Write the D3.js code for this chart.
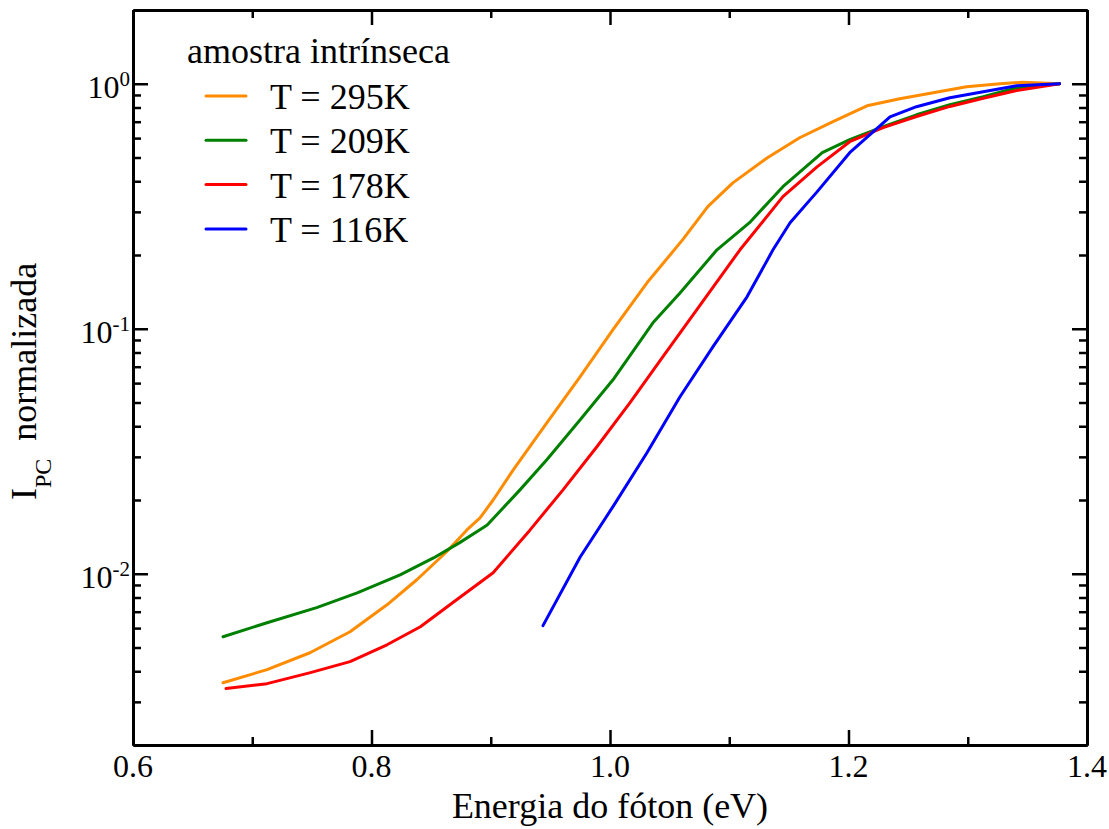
<!DOCTYPE html>
<html>
<head>
<meta charset="utf-8">
<script src="https://cdn.jsdelivr.net/npm/d3@7"></script>
<style>
  body { margin: 0; background: #fff; }
  svg text { font-family: "Liberation Serif", "Times New Roman", serif; fill: #000; }
  .axis path, .axis line { stroke: #000; }
</style>
</head>
<body>
<svg id="chart" width="1109" height="829"></svg>
<script>
// energy (eV) and normalized photocurrent
const E_295 = [0.6755, 0.7124, 0.7484, 0.782, 0.813, 0.838, 0.863, 0.880, 0.891, 0.902, 0.919, 0.947, 0.975, 1.0025, 1.031, 1.061, 1.082, 1.103, 1.132, 1.159, 1.187, 1.2155, 1.243, 1.271, 1.299, 1.327, 1.346, 1.377];
const I_295 = [0.00359, 0.00406, 0.00476, 0.00580, 0.00747, 0.00945, 0.0123, 0.0151, 0.0169, 0.0200, 0.0266, 0.0413, 0.0637, 0.0991, 0.154, 0.231, 0.315, 0.394, 0.499, 0.602, 0.700, 0.813, 0.869, 0.919, 0.972, 1.0, 1.015, 1.0];

const E_209 = [0.6755, 0.7124, 0.754, 0.788, 0.824, 0.852, 0.874, 0.8935, 0.897, 0.9245, 0.947, 0.975, 1.0025, 1.036, 1.0587, 1.0897, 1.117, 1.145, 1.178, 1.201, 1.229, 1.257, 1.285, 1.313, 1.341, 1.377];
const I_209 = [0.00553, 0.00631, 0.00727, 0.00836, 0.00990, 0.0116, 0.0134, 0.0154, 0.0158, 0.0220, 0.0292, 0.0425, 0.0619, 0.1057, 0.140, 0.210, 0.271, 0.380, 0.523, 0.591, 0.668, 0.747, 0.821, 0.885, 0.963, 1.0];

const E_178 = [0.678, 0.7124, 0.748, 0.782, 0.813, 0.841, 0.868, 0.902, 0.933, 0.9606, 0.989, 1.0168, 1.0444, 1.073, 1.109, 1.145, 1.1736, 1.201, 1.229, 1.257, 1.285, 1.313, 1.341, 1.377];
const I_178 = [0.00340, 0.00356, 0.00394, 0.00438, 0.00513, 0.00608, 0.00762, 0.0101, 0.0151, 0.0220, 0.0330, 0.0499, 0.0769, 0.120, 0.210, 0.346, 0.458, 0.580, 0.662, 0.735, 0.808, 0.872, 0.938, 1.0];

const E_116 = [0.9438, 0.975, 1.0025, 1.031, 1.0587, 1.0864, 1.1149, 1.1367, 1.151, 1.1736, 1.201, 1.2348, 1.257, 1.285, 1.313, 1.341, 1.377];
const I_116 = [0.00614, 0.0117, 0.0188, 0.0312, 0.0528, 0.0845, 0.135, 0.210, 0.271, 0.362, 0.523, 0.733, 0.806, 0.877, 0.928, 0.981, 1.0];

const LABELS = ["T = 295K", "T = 209K", "T = 178K", "T = 116K"];
const COLORS = ["#ff8c00", "#008000", "#ff0000", "#0000ff"];

const X_MAJOR = [0.6, 0.8, 1.0, 1.2, 1.4];
const X_MINOR = [0.7, 0.9, 1.1, 1.3];
const Y_MAJOR = [1, 0.1, 0.01];
const Y_EXP = ["0", "-1", "-2"];
const Y_MINOR = [0.003, 0.004, 0.005, 0.006, 0.007, 0.008, 0.009,
                 0.02, 0.03, 0.04, 0.05, 0.06, 0.07, 0.08, 0.09,
                 0.2, 0.3, 0.4, 0.5, 0.6, 0.7, 0.8, 0.9];

const series = [[E_295, I_295], [E_209, I_209], [E_178, I_178], [E_116, I_116]];

const svg = d3.select('#chart');
const pl = 133, pr = 1087, pt = 10, pb = 745;

const x = d3.scaleLinear().domain([0.6, 1.4]).range([pl, pr]);
const y = d3.scaleLog().domain([0.002, 2]).range([pb, pt]);

function styleAxis(g, w) {
    g.attr('class', 'axis');
    g.select('.domain').attr('stroke-width', 3);
    g.selectAll('.tick line').attr('stroke-width', w);
}

// ticks on all four sides, pointing inward
function ticks(axisFn, scale, vals, len, transform) {
    svg.append('g').attr('transform', transform)
        .call(axisFn(scale).tickValues(vals).tickSize(-len).tickSizeOuter(0).tickFormat(''))
        .call(g => styleAxis(g, 2.5));
}
ticks(d3.axisBottom, x, X_MINOR, 8, `translate(0,${pb})`);
ticks(d3.axisTop, x, X_MINOR, 8, `translate(0,${pt})`);
ticks(d3.axisLeft, y, Y_MINOR, 8, `translate(${pl},0)`);
ticks(d3.axisRight, y, Y_MINOR, 8, `translate(${pr},0)`);
ticks(d3.axisBottom, x, X_MAJOR, 15, `translate(0,${pb})`);
ticks(d3.axisTop, x, X_MAJOR, 15, `translate(0,${pt})`);
ticks(d3.axisLeft, y, Y_MAJOR, 15, `translate(${pl},0)`);
ticks(d3.axisRight, y, Y_MAJOR, 15, `translate(${pr},0)`);

// tick labels
svg.append('g').selectAll('text')
    .data(X_MAJOR)
    .enter()
    .append('text')
    .attr('x', d => x(d))
    .attr('y', pb + 32)
    .attr('text-anchor', 'middle')
    .attr('font-size', 32)
    .text(d3.format('.1f'));

const yl = svg.append('g').selectAll('text')
    .data(Y_MAJOR)
    .enter()
    .append('text')
    .attr('x', pl - 3)
    .attr('y', d => y(d) + 14)
    .attr('text-anchor', 'end')
    .attr('font-size', 32);
yl.append('tspan').text('10');
yl.append('tspan').attr('dy', -12).attr('font-size', 21).text((d, i) => Y_EXP[i]);

// curves
const line = d3.line()
    .x(d => x(d[0]))
    .y(d => y(d[1]));

svg.append('g').selectAll('path')
    .data(series)
    .enter()
    .append('path')
    .attr('d', s => line(d3.zip(s[0], s[1])))
    .attr('fill', 'none')
    .attr('stroke', (s, i) => COLORS[i])
    .attr('stroke-width', 3)
    .attr('stroke-linejoin', 'round')
    .attr('stroke-linecap', 'round');

// legend
const legend = svg.append('g');
legend.append('text')
    .attr('x', 187).attr('y', 63)
    .attr('font-size', 36)
    .text('amostra intrínseca');

const items = legend.selectAll('.item')
    .data(LABELS)
    .enter()
    .append('g')
    .attr('class', 'item')
    .attr('transform', (d, i) => `translate(0,${96 + i * 44.3})`);

items.append('line')
    .attr('x1', 206).attr('x2', 246)
    .attr('stroke', (d, i) => COLORS[i])
    .attr('stroke-width', 3)
    .attr('stroke-linecap', 'round');

items.append('text')
    .attr('x', 270).attr('y', 13)
    .attr('font-size', 36)
    .text(d => d);

// axis titles
svg.append('text')
    .attr('x', (pl + pr) / 2).attr('y', 818)
    .attr('text-anchor', 'middle')
    .attr('font-size', 36)
    .text('Energia do fóton (eV)');

const yt = svg.append('text')
    .attr('transform', 'translate(36,500) rotate(-90)')
    .attr('font-size', 36);
yt.append('tspan').text('I');
yt.append('tspan').attr('dy', 15).attr('font-size', 24).text('PC');
yt.append('tspan').attr('dy', -15).text('\u00a0 normalizada');
</script>
</body>
</html>
